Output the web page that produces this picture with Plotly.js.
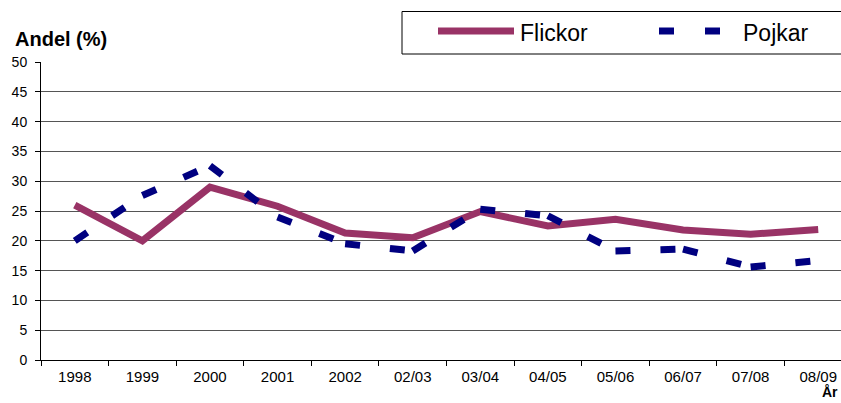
<!DOCTYPE html>
<html>
<head>
<meta charset="utf-8">
<script src="https://cdn.plot.ly/plotly-3.0.1.min.js"></script>
<style>
html,body{margin:0;padding:0;overflow:hidden;background:#fff;}
#chart{width:880px;height:403px;}
</style>
</head>
<body>
<div id="chart"></div>
<script>
var categories = ['1998','1999','2000','2001','2002','02/03','03/04','04/05','05/06','06/07','07/08','08/09'];
var flickor = [26.0, 20.0, 29.0, 25.8, 21.3, 20.5, 24.9, 22.5, 23.6, 21.8, 21.1, 21.9];
var pojkar  = [20.0, 27.6, 32.6, 24.0, 19.5, 18.3, 25.3, 24.2, 18.3, 18.6, 15.6, 16.7];
var yTicks = [0,5,10,15,20,25,30,35,40,45,50];
var seriesNames = ['Flickor','Pojkar'];

var FIG_W = 880, FIG_H = 403;
var M = {l:41, r:28, t:62, b:43};
var PW = FIG_W - M.l - M.r, PH = FIG_H - M.t - M.b;
function px(x){ return (x - M.l)/PW; }
function py(y){ return (FIG_H - M.b - y)/PH; }

var colF = '#993366', colP = '#000080';
var FONT = 'Liberation Sans, Arial, sans-serif';

var traces = [];
traces.push({
  x: categories, y: flickor, name: seriesNames[0], type: 'scatter', mode: 'lines',
  line: {color: colF, width: 7}, showlegend: false, hoverinfo: 'x+y+name'
});
// Pojkar drawn segment by segment so the dash pattern restarts at each point
for (var i = 0; i < categories.length - 1; i++) {
  traces.push({
    x: [categories[i], categories[i+1]], y: [pojkar[i], pojkar[i+1]],
    name: seriesNames[1], type: 'scatter', mode: 'lines',
    line: {color: colP, width: 7, dash: '15px,30px'}, showlegend: false,
    hoverinfo: 'x+y+name'
  });
}

var shapes = [
  {type:'rect', xref:'paper', yref:'paper', x0:px(402), x1:px(900), y0:py(54), y1:py(11.5),
   line:{color:'#000', width:1}, fillcolor:'#fff', layer:'above'},
  {type:'line', xref:'paper', yref:'paper', x0:px(438), x1:px(514), y0:py(31), y1:py(31),
   line:{color:colF, width:7}},
  {type:'line', xref:'paper', yref:'paper', x0:px(659), x1:px(674), y0:py(31), y1:py(31),
   line:{color:colP, width:7}},
  {type:'line', xref:'paper', yref:'paper', x0:px(705), x1:px(720), y0:py(31), y1:py(31),
   line:{color:colP, width:7}}
];

var annotations = [
  {text:'<b>Andel (%)</b>', xref:'paper', yref:'paper', x:px(13), y:py(39), xanchor:'left', yanchor:'middle',
   showarrow:false, font:{family:FONT, size:20, color:'#000'}},
  {text:seriesNames[0], xref:'paper', yref:'paper', x:px(518), y:py(33), xanchor:'left', yanchor:'middle',
   showarrow:false, font:{family:FONT, size:23, color:'#000'}},
  {text:seriesNames[1], xref:'paper', yref:'paper', x:px(741), y:py(33), xanchor:'left', yanchor:'middle',
   showarrow:false, font:{family:FONT, size:23, color:'#000'}},
  {text:'<b>År</b>', xref:'paper', yref:'paper', x:px(820), y:py(392), xanchor:'left', yanchor:'middle',
   showarrow:false, font:{family:FONT, size:14, color:'#000'}}
];

var layout = {
  width: FIG_W, height: FIG_H,
  margin: {l:M.l, r:M.r, t:M.t, b:M.b, pad:0},
  paper_bgcolor:'#fff', plot_bgcolor:'#fff',
  showlegend:false,
  font:{family:FONT, color:'#000'},
  xaxis: {
    type:'category', range:[-0.5, categories.length-0.5], fixedrange:true,
    showgrid:false, zeroline:false, showline:true, linecolor:'#000', linewidth:1,
    ticks:'outside', tickson:'boundaries', ticklen:5, tickcolor:'#000', tickwidth:1,
    tickfont:{size:15, color:'#000'}, ticklabelstandoff:3
  },
  yaxis: {
    range:[0,50], tickvals:yTicks, ticktext:yTicks.map(String), fixedrange:true,
    showgrid:true, gridcolor:'#555', gridwidth:1, zeroline:false,
    showline:true, linecolor:'#000', linewidth:1,
    ticks:'outside', ticklen:5, tickcolor:'#000', tickwidth:1,
    tickfont:{size:14, color:'#000'}, ticklabelstandoff:5
  },
  shapes: shapes,
  annotations: annotations
};

Plotly.newPlot('chart', traces, layout, {displayModeBar:false, staticPlot:true});
</script>
</body>
</html>
